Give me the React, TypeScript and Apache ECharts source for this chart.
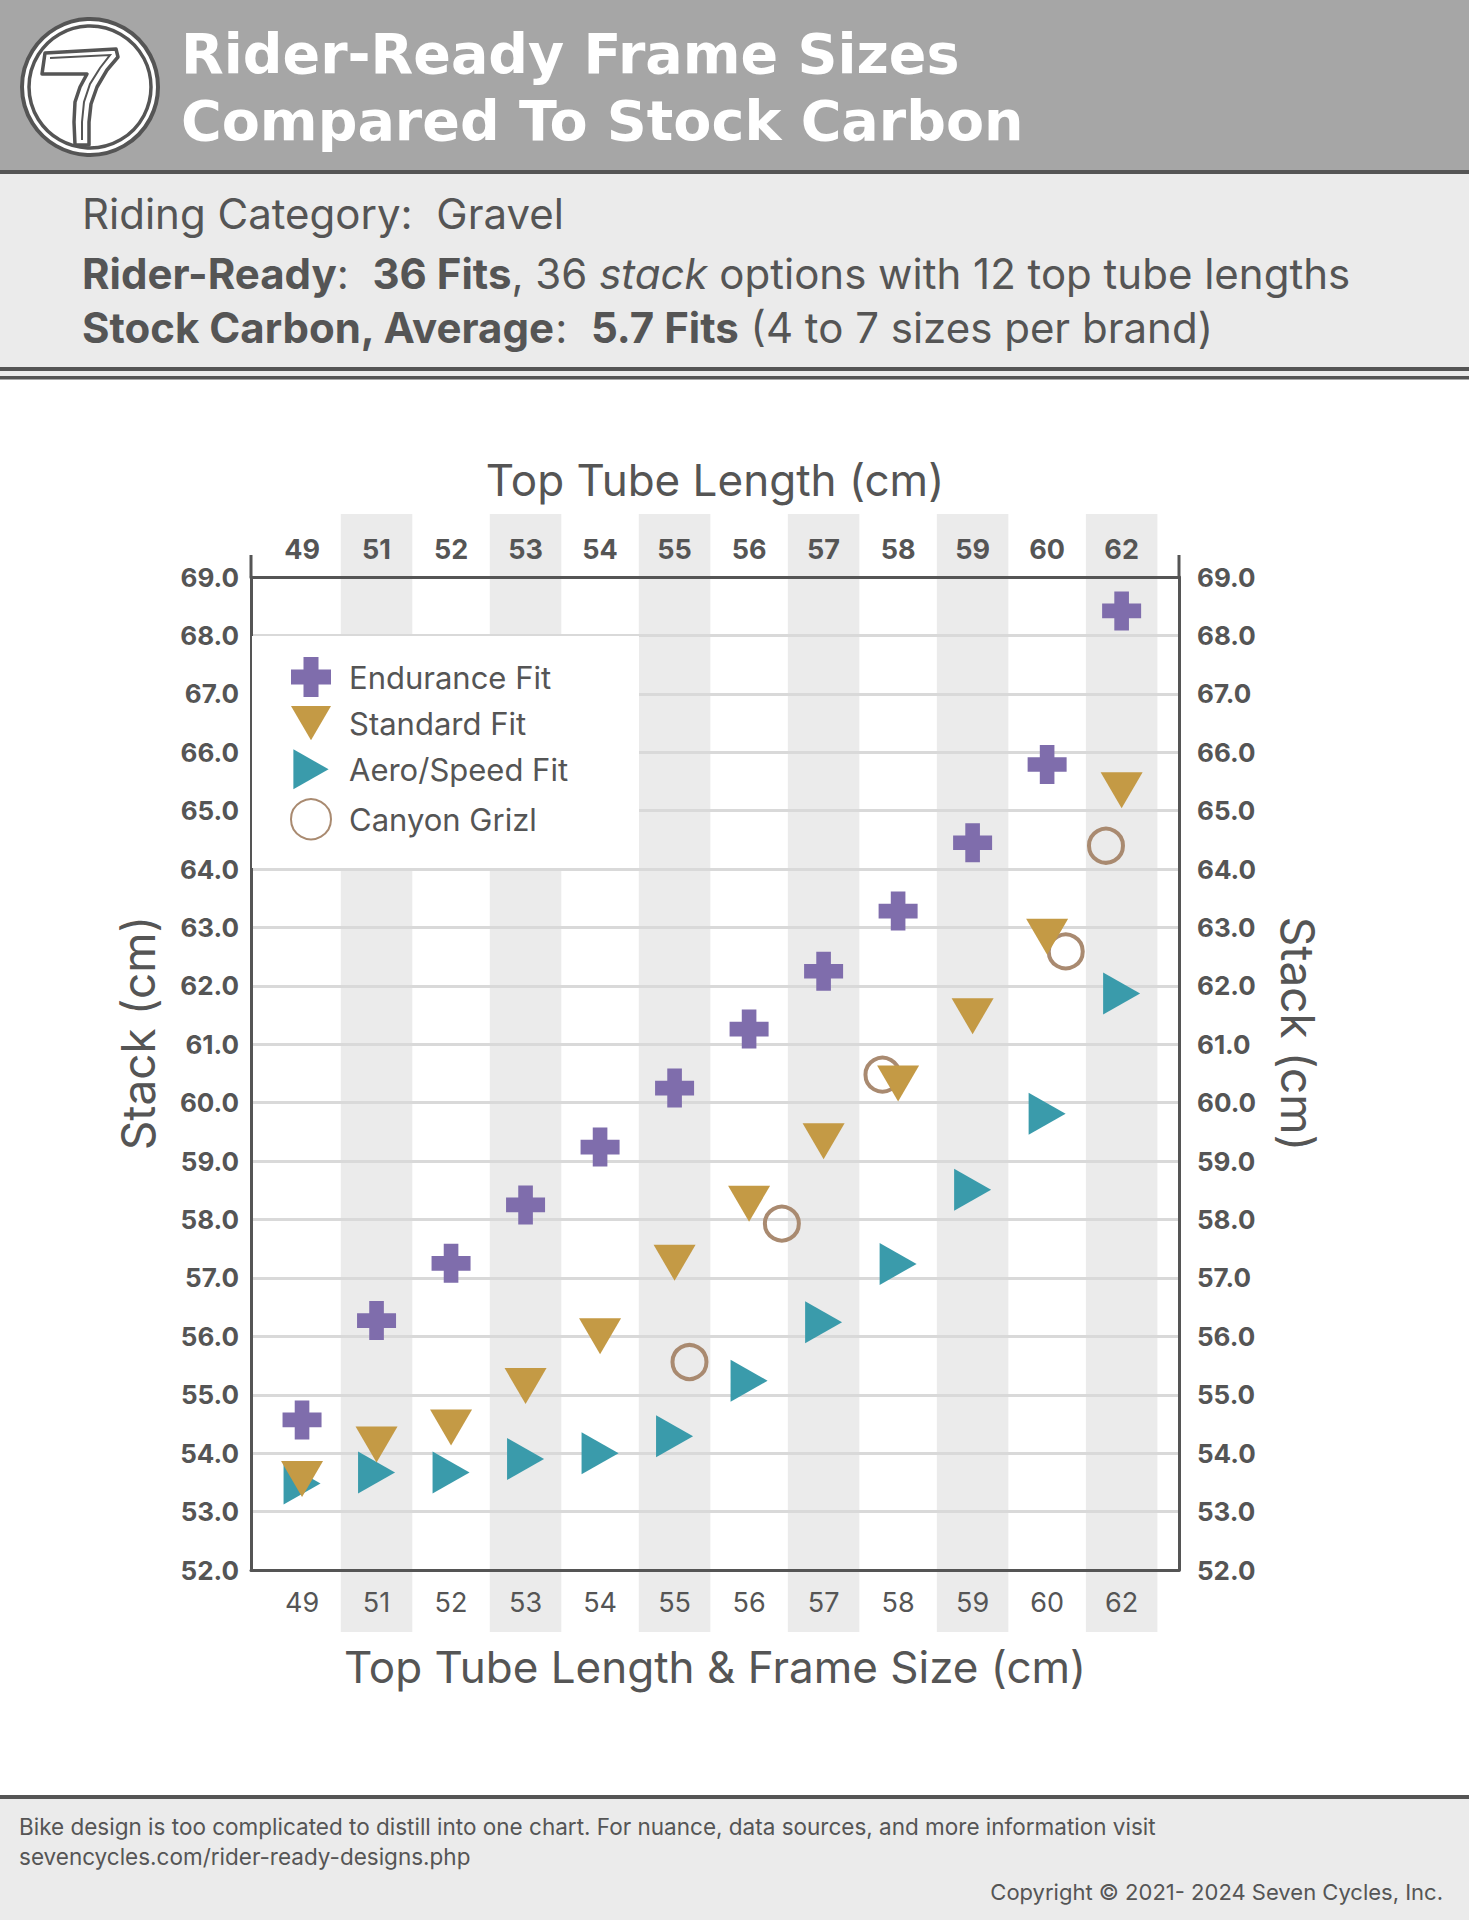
import React, { useEffect, useRef } from 'react';
import * as echarts from 'echarts';

// ---------- data ----------
const categories = ['49', '51', '52', '53', '54', '55', '56', '57', '58', '59', '60', '62'];
const enduranceStack = [54.57, 56.27, 57.25, 58.25, 59.24, 60.25, 61.26, 62.25, 63.28, 64.45, 65.79, 68.42];
const standardStack = [53.56, 54.15, 54.44, 55.15, 56.0, 57.26, 58.27, 59.34, 60.33, 61.48, 62.84, 65.35];
const aeroStack = [53.48, 53.67, 53.67, 53.9, 54.0, 54.29, 55.24, 56.24, 57.24, 58.51, 59.81, 61.87];
// Canyon Grizl: position along the top-tube category scale (category index units) and stack
const grizlPosition = [5.2, 6.44, 7.79, 10.25, 10.79];
const grizlStack = [55.56, 57.93, 60.48, 62.59, 64.4];
const seriesNames = ['Endurance Fit', 'Standard Fit', 'Aero/Speed Fit', 'Canyon Grizl'];
const stackMin = 52;
const stackMax = 69;

// ---------- style ----------
const FONT = 'Inter, "Noto Sans", sans-serif';
const TITLE_FONT = '"DejaVu Sans", Inter, sans-serif';
const DARK = '#555555';
const GRID = { left: 251, top: 577, width: 928, height: 993 };
const X_MIN = -0.685;
const X_MAX = 11.77;

const PLUS = 'path://M12.5,0 H27.5 V12.5 H40 V27.5 H27.5 V40 H12.5 V27.5 H0 V12.5 H12.5 Z';
const DOWN_TRI = 'path://M0,0 H42 L21,36 Z';
const RIGHT_TRI = 'path://M0,0 L37,21 L0,42 Z';

function baseGraphics(): any[] {
  const W = 1469;
  const g: any[] = [];
  const rect = (id: string, x: number, y: number, w: number, h: number, fill: string, z = -2) =>
    g.push({ id, type: 'rect', z, silent: true, shape: { x, y, width: w, height: h }, style: { fill } });
  rect('hdr', 0, 0, W, 171, '#a6a6a6');
  rect('hdrLine', 0, 170, W, 4, DARK);
  rect('sub', 0, 174, W, 202, '#ebebeb');
  rect('dbl1', 0, 367, W, 4, DARK);
  rect('dbl2', 0, 376, W, 3.5, DARK);
  rect('ftLine', 0, 1795, W, 4, DARK);
  rect('ft', 0, 1799, W, 121, '#ebebeb');
  // legend white box
  g.push({ id: 'legBox', type: 'rect', z: 1, silent: true, shape: { x: 252, y: 636, width: 387, height: 232 }, style: { fill: '#ffffff' } });

  // logo
  g.push({ id: 'logoO', type: 'circle', z: 5, silent: true, shape: { cx: 90, cy: 87, r: 68 }, style: { fill: '#ffffff', stroke: DARK, lineWidth: 4 } });
  g.push({ id: 'logoI', type: 'circle', z: 5, silent: true, shape: { cx: 90, cy: 87, r: 61 }, style: { fill: 'none', stroke: DARK, lineWidth: 3.5 } });
  g.push({
    id: 'logo7', type: 'polygon', z: 6, silent: true,
    shape: { points: [[45, 53], [116, 49], [118, 57], [107, 70], [97, 87], [91, 104], [89, 122], [89, 145], [75, 145], [74, 122], [75, 102], [80, 87], [87, 74], [42, 74]] },
    style: { fill: '#ffffff', stroke: DARK, lineWidth: 3.5, lineJoin: 'round' },
  });
  g.push({
    id: 'logo7i', type: 'polyline', z: 6, silent: true,
    shape: { points: [[50, 58], [110, 55], [100, 68], [90, 84], [84, 102], [82, 122], [82, 140]] },
    style: { fill: 'none', stroke: DARK, lineWidth: 2 },
  });

  const text = (id: string, x: number, y: number, t: string, size: number, opts: any = {}) =>
    g.push({
      id, type: 'text', z: 10, silent: true, x, y, rotation: opts.rotation || 0,
      style: {
        text: t, fontSize: size, fontFamily: opts.font || FONT, fontWeight: opts.weight || 'normal',
        fill: opts.fill || DARK, align: opts.align || 'left', verticalAlign: 'middle',
        lineHeight: opts.lineHeight, rich: opts.rich,
      },
    });
  // title
  text('t1', 181, 53, 'Rider-Ready Frame Sizes', 55.5, { weight: 'bold', fill: '#ffffff', font: TITLE_FONT });
  text('t2', 181, 120, 'Compared To Stock Carbon', 55.5, { weight: 'bold', fill: '#ffffff', font: TITLE_FONT });
  // subtitle
  const SUB = 42;
  const richSub = {
    r: { fontSize: SUB, fontFamily: FONT, fill: DARK, fontWeight: 'normal' },
    b: { fontSize: SUB, fontFamily: FONT, fill: DARK, fontWeight: 'bold' },
    i: { fontSize: SUB, fontFamily: FONT, fill: DARK, fontStyle: 'italic' },
  };
  text('s1', 82, 213, '{r|Riding Category:  Gravel}', SUB, { rich: richSub });
  text('s2', 82, 273, '{b|Rider-Ready}{r|:  }{b|36 Fits}{r|, 36 }{i|stack}{r| options with 12 top tube lengths}', SUB, { rich: richSub });
  text('s3', 82, 327, '{b|Stock Carbon, Average}{r|:  }{b|5.7 Fits}{r| (4 to 7 sizes per brand)}', SUB, { rich: richSub });
  // y axis names
  text('yl', 138, 1033, 'Stack (cm)', 46, { rotation: Math.PI / 2, align: 'center' });
  text('yr', 1298, 1034, 'Stack (cm)', 46, { rotation: -Math.PI / 2, align: 'center' });
  // footer
  text('f1', 19, 1826, 'Bike design is too complicated to distill into one chart. For nuance, data sources, and more information visit', 22.5);
  text('f2', 19, 1856, 'sevencycles.com/rider-ready-designs.php', 22.5);
  text('f3', 1443, 1892, 'Copyright \u00A9 2021- 2024 Seven Cycles, Inc.', 22, { align: 'right' });
  // axis extensions above the top axis
  g.push({ id: 'extL', type: 'line', z: 3, silent: true, shape: { x1: GRID.left, y1: 555, x2: GRID.left, y2: GRID.top }, style: { stroke: DARK, lineWidth: 3 } });
  g.push({ id: 'extR', type: 'line', z: 3, silent: true, shape: { x1: GRID.left + GRID.width, y1: 555, x2: GRID.left + GRID.width, y2: GRID.top }, style: { stroke: DARK, lineWidth: 3 } });
  return g;
}

export default function App() {
  const ref = useRef<HTMLDivElement>(null);
  useEffect(() => {
    document.body.style.margin = '0';
    if (!ref.current) return;
    const chart = echarts.init(ref.current, undefined, { renderer: 'svg' });
    const catIdx = categories.map((_, i) => i);
    const tickLabelBase = { color: DARK, fontFamily: FONT };
    const xAxisCommon = {
      type: 'value', min: X_MIN, max: X_MAX,
      axisLine: { show: true, onZero: false, lineStyle: { color: DARK, width: 3 } },
      axisTick: { show: false }, splitLine: { show: false },
      nameLocation: 'middle',
      nameTextStyle: { fontSize: 44, color: DARK, fontFamily: FONT },
    };
    const yAxisCommon = {
      type: 'value', min: stackMin, max: stackMax, interval: 1,
      axisLine: { show: true, onZero: false, lineStyle: { color: DARK, width: 3 } },
      axisTick: { show: false },
    };
    const option: any = {
      animation: false,
      backgroundColor: '#ffffff',
      grid: { left: GRID.left, top: GRID.top, width: GRID.width, height: GRID.height, containLabel: false },
      xAxis: [
        {
          ...xAxisCommon, position: 'bottom',
          name: 'Top Tube Length & Frame Size (cm)', nameGap: 75,
          axisLabel: { ...tickLabelBase, fontSize: 27, margin: 19, customValues: catIdx, formatter: (v: number) => categories[Math.round(v)] ?? '' },
        },
        {
          ...xAxisCommon, position: 'top',
          name: 'Top Tube Length (cm)', nameGap: 75,
          axisLabel: { ...tickLabelBase, fontSize: 27, fontWeight: 'bold', margin: 14, customValues: catIdx, formatter: (v: number) => categories[Math.round(v)] ?? '' },
        },
      ],
      yAxis: [
        {
          ...yAxisCommon, position: 'left',
          splitLine: { show: true, lineStyle: { color: '#d9d9d9', width: 3 } },
          axisLabel: { ...tickLabelBase, fontSize: 26, fontWeight: 'bold', margin: 12, formatter: (v: number) => v.toFixed(1) },
        },
        {
          ...yAxisCommon, position: 'right',
          splitLine: { show: false },
          axisLabel: { ...tickLabelBase, fontSize: 26, fontWeight: 'bold', margin: 18, formatter: (v: number) => v.toFixed(1) },
        },
      ],
      legend: {
        data: seriesNames,
        orient: 'vertical', left: 290, top: 657, padding: 0,
        itemWidth: 40, itemHeight: 40, itemGap: 9,
        selectedMode: false,
        textStyle: { fontSize: 31, color: DARK, fontFamily: FONT, padding: [0, 0, 0, 13] },
      },
      series: [
        {
          name: seriesNames[3], type: 'scatter', z: 2, silent: true,
          data: grizlPosition.map((x, i) => [x, grizlStack[i]]),
          symbol: 'circle', symbolSize: 34,
          itemStyle: { color: 'rgba(255,255,255,0)', borderColor: '#a98a70', borderWidth: 4, opacity: 1 },
        },
        {
          name: seriesNames[2], type: 'scatter', z: 3, silent: true,
          data: aeroStack.map((v, i) => [i, v]),
          symbol: RIGHT_TRI, symbolSize: [37, 42],
          itemStyle: { color: '#3a9bab', opacity: 1 },
        },
        {
          name: seriesNames[1], type: 'scatter', z: 4, silent: true,
          data: standardStack.map((v, i) => [i, v]),
          symbol: DOWN_TRI, symbolSize: [42, 36],
          itemStyle: { color: '#c49a45', opacity: 1 },
        },
        {
          name: seriesNames[0], type: 'scatter', z: 5, silent: true,
          data: enduranceStack.map((v, i) => [i, v]),
          symbol: PLUS, symbolSize: [39, 39],
          itemStyle: { color: '#7f6dac', opacity: 1 },
        },
      ],
      graphic: baseGraphics(),
    };
    chart.setOption(option);
    // alternating column bands, located through the x axis scale
    const bands: any[] = [];
    categories.forEach((_, i) => {
      if (i % 2 === 1) {
        const x0 = chart.convertToPixel({ xAxisIndex: 0 }, i - 0.48) as number;
        const x1 = chart.convertToPixel({ xAxisIndex: 0 }, i + 0.48) as number;
        bands.push({ id: 'band' + i, type: 'rect', z: -1, silent: true, shape: { x: x0, y: 514, width: x1 - x0, height: 1118 }, style: { fill: '#ebebeb' } });
      }
    });
    chart.setOption({ graphic: [...baseGraphics(), ...bands] });
    return () => chart.dispose();
  }, []);
  return <div ref={ref} style={{ position: 'absolute', left: 0, top: 0, width: 1469, height: 1920 }} />;
}
